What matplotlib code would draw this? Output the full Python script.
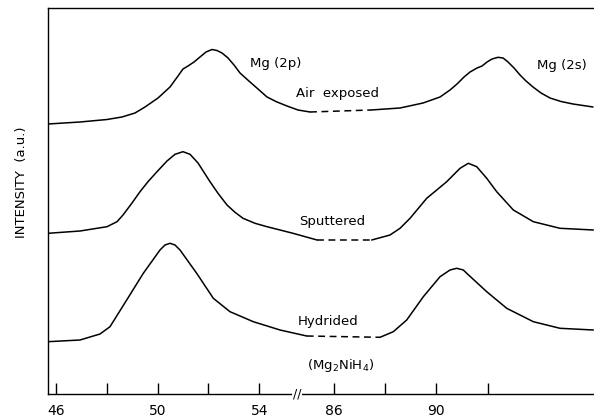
import numpy as np
import matplotlib
matplotlib.use("Agg")
import matplotlib.pyplot as plt
import matplotlib.transforms as mtransforms
from matplotlib.ticker import FixedLocator, NullFormatter

# ---------------- data (binding energy in eV, intensity in a.u.) ----------------
air_lo_E = [45.685, 46.945, 48.008, 48.598, 49.110, 49.504, 50.016, 50.488, 50.803,
            51.000, 51.197, 51.433, 51.669, 51.906, 52.142, 52.339, 52.535, 52.772,
            53.008, 53.244, 53.638, 53.953, 54.307, 54.701, 55.094, 55.528, 56.000]
air_lo_I = [27.0, 27.2, 27.45, 27.7, 28.1, 28.7, 29.6, 30.7, 31.8,
            32.5, 32.8, 33.2, 33.7, 34.2, 34.45, 34.35, 34.1, 33.6,
            32.9, 32.1, 31.2, 30.5, 29.7, 29.2, 28.8, 28.4, 28.2]
air_gap_E = [56.00, 87.445]
air_gap_I = [28.2, 28.4]
air_hi_E = [87.445, 88.578, 89.477, 90.141, 90.531, 90.805, 91.078, 91.313, 91.586,
            91.781, 91.977, 92.172, 92.406, 92.602, 92.797, 93.031, 93.266, 93.500,
            93.773, 94.086, 94.438, 94.867, 95.336, 96.117]
air_hi_I = [28.4, 28.6, 29.1, 29.7, 30.4, 31.0, 31.7, 32.2, 32.6,
            32.8, 33.2, 33.5, 33.67, 33.6, 33.2, 32.6, 31.9, 31.3,
            30.7, 30.1, 29.6, 29.25, 29.0, 28.7]

spt_lo_E = [45.685, 46.945, 48.008, 48.402, 48.638, 48.992, 49.307, 49.622, 49.976,
            50.370, 50.685, 51.000, 51.276, 51.591, 52.063, 52.378, 52.732, 53.047,
            53.362, 53.835, 54.307, 55.331, 56.276]
spt_lo_I = [16.07, 16.3, 16.73, 17.23, 17.9, 19.1, 20.23, 21.23, 22.23,
            23.3, 23.97, 24.23, 23.97, 23.1, 21.23, 20.07, 18.9, 18.17,
            17.57, 17.07, 16.73, 16.07, 15.4]
spt_gap_E = [56.276, 87.473]
spt_gap_I = [15.4, 15.4]
spt_hi_E = [87.473, 88.188, 88.578, 88.969, 89.621, 90.402, 90.922, 91.246, 91.574,
            91.965, 92.355, 93.004, 93.785, 94.828, 96.129]
spt_hi_I = [15.4, 15.9, 16.57, 17.57, 19.57, 21.23, 22.57, 23.07, 22.73,
            21.57, 20.23, 18.4, 17.23, 16.57, 16.4]

hyd_lo_E = [45.685, 46.945, 47.732, 48.126, 48.783, 49.437, 50.094, 50.291, 50.488,
            50.685, 50.882, 51.539, 52.193, 52.850, 53.768, 54.819, 55.870]
hyd_lo_I = [5.23, 5.4, 6.0, 6.73, 9.4, 12.07, 14.4, 14.9, 15.07,
            14.9, 14.4, 12.07, 9.57, 8.23, 7.23, 6.4, 5.8]
hyd_gap_E = [55.870, 87.797]
hyd_gap_I = [5.8, 5.67]
hyd_hi_E = [87.797, 88.316, 88.840, 89.488, 90.141, 90.531, 90.793, 91.051, 91.184,
            91.965, 92.746, 93.785, 94.828, 96.129]
hyd_hi_I = [5.67, 6.23, 7.4, 9.73, 11.73, 12.4, 12.57, 12.4, 12.07,
            10.23, 8.57, 7.23, 6.57, 6.4]

major_ticks = [46, 50, 54, 86, 90]
major_labels = ["46", "50", "54", "86", "90"]
minor_ticks = [48, 52, 88, 92]

# ---------------- broken energy scale ----------------
BREAK_P = 55.49      # axis position of the break
P_HI0 = 56.945       # axis position of 86 eV
HI0 = 86.0
SC = 25.6 / 25.4


def fwd(x):
    x = np.asarray(x, dtype=float)
    return np.where(x < 70, x, P_HI0 + (x - HI0) * SC)


def inv(p):
    p = np.asarray(p, dtype=float)
    return np.where(p < BREAK_P, p, HI0 + (p - P_HI0) / SC)


plt.rcParams["font.family"] = ["DejaVu Sans"]

fig = plt.figure(figsize=(5.94, 4.18), dpi=100)
W, H = 594, 418
ax = fig.add_axes([48 / W, 24 / H, 1 - 48 / W, (394 - 8) / H])
ax.set_xscale("function", functions=(fwd, inv))

lw = 1.1
style = dict(color="black", lw=lw, solid_capstyle="round", solid_joinstyle="round")
for lo_E, lo_I, gap_E, gap_I, hi_E, hi_I in [
    (air_lo_E, air_lo_I, air_gap_E, air_gap_I, air_hi_E, air_hi_I),
    (spt_lo_E, spt_lo_I, spt_gap_E, spt_gap_I, spt_hi_E, spt_hi_I),
    (hyd_lo_E, hyd_lo_I, hyd_gap_E, hyd_gap_I, hyd_hi_E, hyd_hi_I),
]:
    ax.plot(lo_E, lo_I, **style)
    ax.plot(gap_E, gap_I, color="black", lw=lw, linestyle=(0, (4.5, 3)))
    ax.plot(hi_E, hi_I, **style)

ax.set_xlim(45.685, 96.155)
ax.set_ylim(0, 38.6)

ax.xaxis.set_major_locator(FixedLocator(major_ticks))
ax.set_xticklabels(major_labels)
ax.xaxis.set_minor_locator(FixedLocator(minor_ticks))
ax.xaxis.set_minor_formatter(NullFormatter())
ax.tick_params(axis="x", which="both", direction="in", length=8, width=1,
               pad=7.5, labelsize=10, top=False)
ax.set_yticks([])

for s in ["left", "top", "bottom"]:
    ax.spines[s].set_linewidth(1.0)
ax.spines["right"].set_visible(False)

ax.set_ylabel("INTENSITY  (a.u.)", fontsize=9.5)
ax.yaxis.set_label_coords(-0.036, 0.549)

tfont = 9.5
ax.text(54.66, 33.1, "Mg (2p)", fontsize=tfont, ha="center", va="center")
ax.text(94.9, 32.9, "Mg (2s)", fontsize=tfont, ha="center", va="center")
ax.text(86.12, 30.1, "Air  exposed", fontsize=tfont, ha="center", va="center")
ax.text(85.92, 17.3, "Sputtered", fontsize=tfont, ha="center", va="center")
ax.text(85.77, 7.2, "Hydrided", fontsize=tfont, ha="center", va="center")
ax.text(86.27, 2.9, r"(Mg$_2$NiH$_4$)", fontsize=tfont, ha="center", va="center")

blend = mtransforms.blended_transform_factory(ax.transData, ax.transAxes)
ax.text(BREAK_P, 0.0, "//", transform=blend, fontsize=9, ha="center", va="center",
        bbox=dict(fc="white", ec="none", pad=0.3), clip_on=False)

fig.savefig("out.png", dpi=100)
